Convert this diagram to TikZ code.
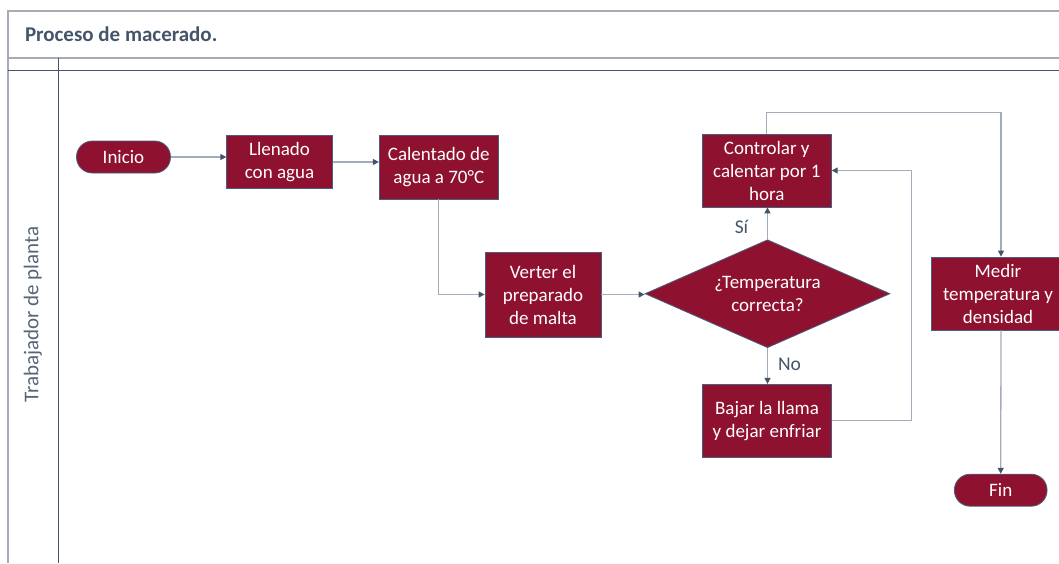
\documentclass[tikz,border=0pt]{standalone}
\usepackage{fontspec}
\setmainfont{Carlito}
\usetikzlibrary{arrows.meta,shapes.geometric}
\definecolor{wine}{HTML}{8E1230}
\definecolor{edge}{HTML}{4A5F80}
\definecolor{slate}{HTML}{44546A}
\definecolor{wire}{HTML}{A3ACB9}
\definecolor{framec}{HTML}{A6ABB5}
\begin{document}
\begin{tikzpicture}[x=1pt,y=-1pt,
  procbox/.style={draw=edge, line width=0.8pt, fill=wine, text=white, align=center,
    inner sep=0pt, font=\fontsize{19}{23}\selectfont},
  terminal/.style={procbox, rounded corners=15.8pt, minimum height=32pt},
  decision/.style={procbox, diamond, aspect=2.27, minimum width=245pt, minimum height=108pt},
  flow/.style={draw=wire, line width=1.3pt, -{Triangle[length=6pt,width=6pt,color=slate]}},
  lbl/.style={text=slate, font=\fontsize{19.5}{23}\selectfont}]

\useasboundingbox (0,0) rectangle (1059,563);

% pool frame and lane
\draw[framec, line width=1.5pt] (8,563) -- (8,11) -- (1059,11);
\draw[framec, line width=2pt] (8,57.5) -- (1059,57.5);
\draw[slate, line width=0.8pt] (8,70) -- (1059,70);
\draw[slate, line width=0.8pt] (58,57.5) -- (58,563);
\node[anchor=west, text=slate, font=\bfseries\fontsize{21}{25}\selectfont] (title) at (21.5,34) {Proceso de macerado.};
\node[rotate=90, text=slate!90, font=\fontsize{21}{25}\selectfont] (lane) at (33,314.5) {Trabajador de planta};

% steps
\node[terminal, minimum width=94pt] (inicio) at (123.5,157) {Inicio};
\node[procbox, minimum width=105.5pt, minimum height=52.5pt] (llenado) at (279.5,162) {Llenado\\con agua};
\node[procbox, minimum width=119pt, minimum height=63.3pt] (calentado) at (438.8,167.3) {Calentado de\\agua a 70°C};
\node[procbox, minimum width=116pt, minimum height=85pt] (verter) at (543,294.5) {Verter el\\preparado\\de malta};
\node[decision] (temp) at (767.5,293.7) {¿Temperatura\\correcta?};
\node[procbox, minimum width=129pt, minimum height=73pt] (controlar) at (766.8,170.5) {Controlar y\\calentar por 1\\hora};
\node[procbox, minimum width=129.5pt, minimum height=73pt] (bajar) at (767,420.8) {Bajar la llama\\y dejar enfriar};
\node[procbox, minimum width=134pt, minimum height=73pt] (medir) at (998,293.5) {Medir\\temperatura y\\densidad};
\node[terminal, minimum width=92.7pt] (fin) at (1000.7,490.2) {Fin};

% routing helpers
\coordinate (loopx) at (911.7,0);
\coordinate (topy) at (0,112.7);
\coordinate (drop) at (1001,0);

% connectors
\draw[flow] (inicio.east) -- (inicio.east -| llenado.west);
\draw[flow] (llenado.east) -- (llenado.east -| calentado.west);
\draw[flow] (calentado.south) |- (verter.west);
\draw[flow] (verter.east) -- (verter.east -| temp.west);
\draw[flow] (temp.north) -- (temp.north |- controlar.south);
\node[lbl] (si) at (741.5,226.5) {Sí};
\draw[flow] (temp.south) -- (temp.south |- bajar.north);
\node[lbl] (no) at (789.5,364.5) {No};
\draw[flow] (bajar.east) -- (bajar.east -| loopx) -- (loopx |- controlar.east) -- (controlar.east);
\draw[flow] (controlar.north) -- (controlar.north |- topy) -- (drop |- topy) -- (drop |- medir.north);
\draw[flow] (drop |- medir.south) -- (fin.north);
\end{tikzpicture}
\end{document}
